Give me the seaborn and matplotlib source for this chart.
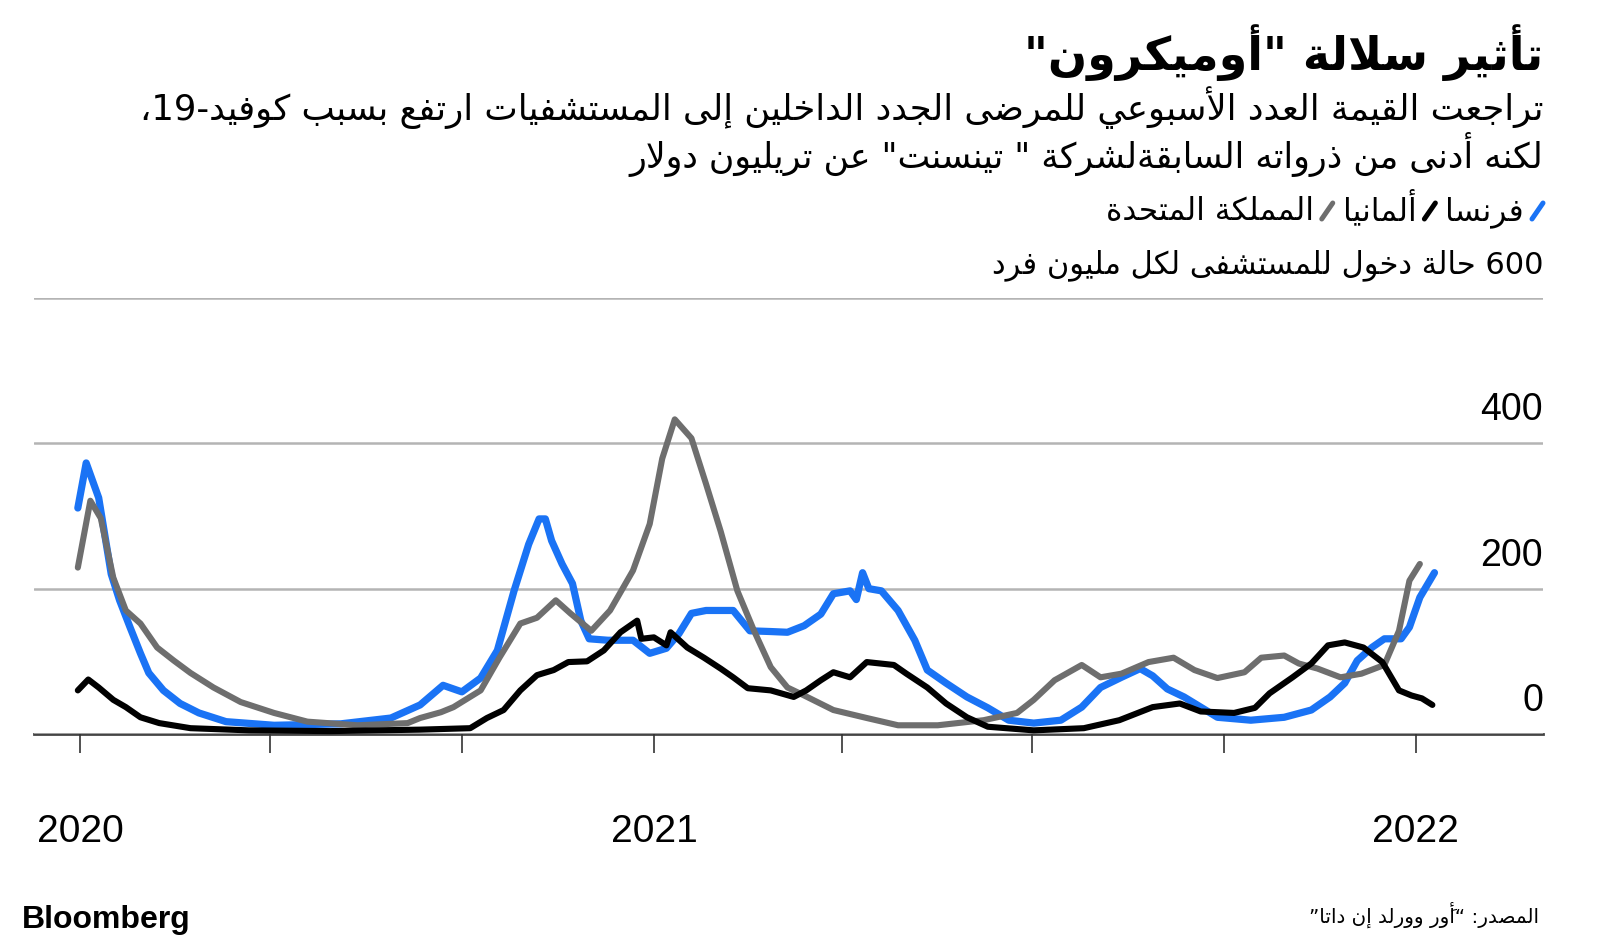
"""Omicron hospital admissions chart (Bloomberg style, Arabic text)."""

import matplotlib

matplotlib.use("Agg")

import matplotlib.pyplot as plt
import pandas as pd
import seaborn as sns
from matplotlib.lines import Line2D
from matplotlib.transforms import ScaledTranslation

# --- data (weekly new hospital admissions per million) ---
france_dates = [
    "2020-03-31", "2020-04-04", "2020-04-10", "2020-04-16", "2020-04-20", "2020-04-25",
    "2020-04-30", "2020-05-04", "2020-05-11", "2020-05-19", "2020-05-28", "2020-06-10",
    "2020-07-03", "2020-08-04", "2020-08-28", "2020-09-11", "2020-09-22", "2020-10-01",
    "2020-10-10", "2020-10-18", "2020-10-26", "2020-11-02", "2020-11-07", "2020-11-10",
    "2020-11-13", "2020-11-18", "2020-11-23", "2020-11-27", "2020-12-01", "2020-12-10",
    "2020-12-22", "2020-12-30", "2021-01-07", "2021-01-13", "2021-01-19", "2021-01-26",
    "2021-02-08", "2021-02-16", "2021-02-26", "2021-03-06", "2021-03-14", "2021-03-22",
    "2021-03-28", "2021-04-05", "2021-04-08", "2021-04-11", "2021-04-14", "2021-04-20",
    "2021-04-28", "2021-05-06", "2021-05-12", "2021-05-21", "2021-05-31", "2021-06-10",
    "2021-06-20", "2021-07-02", "2021-07-15", "2021-07-25", "2021-08-03", "2021-08-13",
    "2021-08-22", "2021-08-28", "2021-09-04", "2021-09-12", "2021-09-20", "2021-09-28",
    "2021-10-14", "2021-10-30", "2021-11-12", "2021-11-21", "2021-11-28", "2021-12-04",
    "2021-12-11", "2021-12-17", "2021-12-25", "2021-12-29", "2022-01-03", "2022-01-10",
]
france_values = [
    311, 373, 325, 220, 184, 147, 111, 84, 60, 42, 29, 17, 12, 14, 22, 40, 67, 58, 77, 115,
    197, 261, 296, 296, 266, 234, 207, 156, 131, 129, 129, 111, 118, 138, 166, 170, 170, 142,
    141, 140, 149, 165, 193, 197, 185, 222, 200, 197, 170, 129, 88, 70, 51, 36, 19, 15, 19,
    37, 64, 78, 90, 80, 62, 51, 37, 23, 19, 23, 33, 51, 70, 101, 119, 131, 131, 147, 188, 222,
]

germany_dates = [
    "2020-03-31", "2020-04-05", "2020-04-10", "2020-04-17", "2020-04-23", "2020-04-30",
    "2020-05-09", "2020-05-24", "2020-06-21", "2020-07-30", "2020-09-11", "2020-10-05",
    "2020-10-13", "2020-10-21", "2020-10-29", "2020-11-06", "2020-11-14", "2020-11-21",
    "2020-11-30", "2020-12-08", "2020-12-16", "2020-12-24", "2020-12-26", "2021-01-01",
    "2021-01-07", "2021-01-09", "2021-01-17", "2021-01-25", "2021-02-02", "2021-02-08",
    "2021-02-15", "2021-02-26", "2021-03-09", "2021-03-15", "2021-03-22", "2021-03-28",
    "2021-04-05", "2021-04-13", "2021-04-26", "2021-05-02", "2021-05-12", "2021-05-21",
    "2021-05-31", "2021-06-10", "2021-07-02", "2021-07-26", "2021-08-12", "2021-08-28",
    "2021-09-10", "2021-09-20", "2021-10-06", "2021-10-16", "2021-10-23", "2021-11-03",
    "2021-11-12", "2021-11-20", "2021-11-28", "2021-12-07", "2021-12-16", "2021-12-24",
    "2021-12-30", "2022-01-04", "2022-01-09",
]
germany_values = [
    60, 75, 64, 47, 37, 23, 15, 8, 5, 4, 6, 8, 22, 33, 60, 81, 88, 99, 100, 115,
    140, 156, 131, 133, 122, 140, 119, 105, 90, 78, 63, 60, 51, 60, 74, 85, 78, 99, 95, 83,
    64, 42, 23, 10, 5, 8, 19, 37, 42, 31, 29, 36, 56, 78, 97, 122, 126, 119, 99, 60,
    53, 49, 40,
]

uk_dates = [
    "2020-03-31", "2020-04-06", "2020-04-11", "2020-04-17", "2020-04-23", "2020-04-30",
    "2020-05-08", "2020-05-16", "2020-05-24", "2020-06-04", "2020-06-17", "2020-07-03",
    "2020-07-19", "2020-08-12", "2020-09-05", "2020-09-11", "2020-09-21", "2020-09-27",
    "2020-10-10", "2020-10-19", "2020-10-29", "2020-11-06", "2020-11-15", "2020-11-22",
    "2020-12-02", "2020-12-11", "2020-12-22", "2020-12-30", "2021-01-05", "2021-01-11",
    "2021-01-19", "2021-01-26", "2021-02-02", "2021-02-10", "2021-02-18", "2021-02-26",
    "2021-03-06", "2021-03-14", "2021-03-28", "2021-04-13", "2021-04-28", "2021-05-17",
    "2021-06-08", "2021-06-24", "2021-07-02", "2021-07-12", "2021-07-25", "2021-08-03",
    "2021-08-13", "2021-08-26", "2021-09-07", "2021-09-17", "2021-09-28", "2021-10-11",
    "2021-10-19", "2021-10-30", "2021-11-06", "2021-11-15", "2021-11-26", "2021-12-06",
    "2021-12-17", "2021-12-24", "2021-12-29", "2022-01-03",
]
uk_values = [
    229, 321, 297, 215, 170, 152, 119, 101, 84, 64, 44, 29, 17, 12, 15, 22, 30, 37, 60, 105,
    152, 160, 184, 166, 142, 170, 225, 289, 379, 433, 407, 344, 279, 197, 142, 92, 64, 53, 33, 22,
    12, 12, 19, 29, 47, 74, 95, 78, 83, 99, 105, 88, 77, 85, 105, 108, 97, 90, 78, 83,
    95, 142, 211, 234,
]

countries = ["فرنسا", "ألمانيا", "المملكة المتحدة"]
colors = ["#1a73f5", "#000000", "#6e6e6e"]

y_ticks = [0, 200, 400, 600]
y_tick_labels = ["0", "200", "400", ""]
x_ticks = ["2020-04-01", "2020-07-01", "2020-10-01", "2021-01-01",
           "2021-04-01", "2021-07-01", "2021-10-01", "2022-01-01"]
x_tick_labels = ["2020", "", "", "2021", "", "", "", "2022"]

title = 'تأثير سلالة "أوميكرون"'
subtitle = [
    "تراجعت القيمة العدد الأسبوعي للمرضى الجدد الداخلين إلى المستشفيات ارتفع بسبب كوفيد-19،",
    'لكنه أدنى من ذرواته السابقةلشركة " تينسنت" عن تريليون دولار',
]
unit_label = "600 حالة دخول للمستشفى لكل مليون فرد"
source = "المصدر: “أوَر وورلد إن داتا”"


# --- minimal Arabic shaping + right-to-left ordering (matplotlib has no shaper) ---
ARABIC_FORMS = {
    "\u0621": (0xFE80, "U"), "\u0622": (0xFE81, "R"), "\u0623": (0xFE83, "R"),
    "\u0624": (0xFE85, "R"), "\u0625": (0xFE87, "R"), "\u0626": (0xFE89, "D"),
    "\u0627": (0xFE8D, "R"), "\u0628": (0xFE8F, "D"), "\u0629": (0xFE93, "R"),
    "\u062A": (0xFE95, "D"), "\u062B": (0xFE99, "D"), "\u062C": (0xFE9D, "D"),
    "\u062D": (0xFEA1, "D"), "\u062E": (0xFEA5, "D"), "\u062F": (0xFEA9, "R"),
    "\u0630": (0xFEAB, "R"), "\u0631": (0xFEAD, "R"), "\u0632": (0xFEAF, "R"),
    "\u0633": (0xFEB1, "D"), "\u0634": (0xFEB5, "D"), "\u0635": (0xFEB9, "D"),
    "\u0636": (0xFEBD, "D"), "\u0637": (0xFEC1, "D"), "\u0638": (0xFEC5, "D"),
    "\u0639": (0xFEC9, "D"), "\u063A": (0xFECD, "D"), "\u0641": (0xFED1, "D"),
    "\u0642": (0xFED5, "D"), "\u0643": (0xFED9, "D"), "\u0644": (0xFEDD, "D"),
    "\u0645": (0xFEE1, "D"), "\u0646": (0xFEE5, "D"), "\u0647": (0xFEE9, "D"),
    "\u0648": (0xFEED, "R"), "\u0649": (0xFEEF, "R"), "\u064A": (0xFEF1, "D"),
}
LAM_ALEF = {"\u0622": 0xFEF5, "\u0623": 0xFEF7, "\u0625": 0xFEF9, "\u0627": 0xFEFB}
HARAKAT = set(chr(c) for c in range(0x064B, 0x0653))


def joining(cluster):
    if cluster[0].startswith("LA"):
        return "R"
    return ARABIC_FORMS.get(cluster[0], (None, None))[1]


def rtl(text):
    """Shape Arabic letters and return the string in visual (left-to-right) order."""
    clusters = []
    for ch in text:
        if ch in HARAKAT and clusters:
            clusters[-1][1] += ch
        else:
            clusters.append([ch, ""])

    merged = []
    i = 0
    while i < len(clusters):
        ch, marks = clusters[i]
        if ch == "\u0644" and i + 1 < len(clusters) and clusters[i + 1][0] in LAM_ALEF:
            merged.append(["LA" + clusters[i + 1][0], marks + clusters[i + 1][1]])
            i += 2
        else:
            merged.append([ch, marks])
            i += 1

    glyphs = []
    for i, cluster in enumerate(merged):
        jt = joining(cluster)
        if jt is None:
            glyphs.append(cluster[0] + cluster[1])
            continue
        prev_joins = i > 0 and joining(merged[i - 1]) == "D" and jt in ("D", "R")
        next_joins = (i + 1 < len(merged) and jt == "D"
                      and joining(merged[i + 1]) in ("D", "R"))
        if cluster[0].startswith("LA"):
            code = LAM_ALEF[cluster[0][2]] + (1 if prev_joins else 0)
        else:
            base = ARABIC_FORMS[cluster[0]][0]
            offset = {(False, False): 0, (True, False): 1,
                      (False, True): 2, (True, True): 3}[(prev_joins, next_joins)]
            code = base + offset
        glyphs.append(chr(code) + cluster[1])

    # keep runs of digits / latin in their own order
    tokens = []
    for g in glyphs:
        if g.isascii() and g.isalnum() and tokens and tokens[-1].isascii() and tokens[-1].isalnum():
            tokens[-1] += g
        else:
            tokens.append(g)
    return "".join(reversed(tokens))


# --- figure ---
sns.set_style("white")
plt.rcParams["font.family"] = ["DejaVu Sans"]
plt.rcParams["text.color"] = "black"
plt.rcParams["xtick.color"] = "black"
plt.rcParams["ytick.color"] = "black"

W, H = 1600, 946
fig = plt.figure(figsize=(W / 100, H / 100), dpi=100)
ax = fig.add_axes([34 / W, 1 - 734 / H, 1509 / W, 436 / H])

series = [
    ("فرنسا", france_dates, france_values, colors[0], 5.2, 1),
    ("المملكة المتحدة", uk_dates, uk_values, colors[2], 4.4, 2),
    ("ألمانيا", germany_dates, germany_values, colors[1], 4.4, 3),
]
for name, dates, values, color, lw, z in series:
    df = pd.DataFrame({"date": pd.to_datetime(dates), "value": values})
    sns.lineplot(data=df, x="date", y="value", ax=ax, color=color, linewidth=lw,
                 estimator=None, zorder=z, clip_on=False)

ax.set_xlim(pd.Timestamp("2020-03-10"), pd.Timestamp("2022-03-03"))
ax.set_ylim(0, 600)
ax.set_xlabel("")
ax.set_ylabel("")

for side in ["top", "left", "right"]:
    ax.spines[side].set_visible(False)
ax.spines["bottom"].set_color("#444444")
ax.spines["bottom"].set_linewidth(2.0)
ax.spines["bottom"].set_zorder(0.5)

ax.set_yticks(y_ticks)
ax.set_yticklabels(y_tick_labels)
ax.yaxis.grid(True, color="#b4b4b4", linewidth=1.8, zorder=0)
ax.set_axisbelow(True)
ax.yaxis.set_ticks_position("right")
ax.tick_params(axis="y", length=0, pad=0, labelsize=27, labelright=True, labelleft=False)
offset = ScaledTranslation(0, 23 / 100, fig.dpi_scale_trans)
for lab in ax.get_yticklabels():
    lab.set_horizontalalignment("right")
    lab.set_verticalalignment("baseline")
    lab.set_fontfamily("Liberation Sans")
    lab.set_transform(lab.get_transform() + offset)

ax.set_xticks(pd.to_datetime(x_ticks))
ax.set_xticklabels(x_tick_labels)
ax.tick_params(axis="x", length=13.5, width=1.2, color="#333333", pad=44,
               labelsize=28, labelcolor="black", direction="out", bottom=True)
for lab in ax.get_xticklabels():
    lab.set_fontfamily("Liberation Sans")

# --- texts ---
RIGHT = 1543


def put(x, y, s, **kw):
    return fig.text(x / W, 1 - y / H, s, **kw)


put(RIGHT, 70, rtl(title), ha="right", va="baseline", fontsize=33, fontweight="bold")
put(RIGHT, 120, rtl(subtitle[0]), ha="right", va="baseline", fontsize=25.5)
put(RIGHT, 168, rtl(subtitle[1]), ha="right", va="baseline", fontsize=25)
put(RIGHT, 273, rtl(unit_label), ha="right", va="baseline", fontsize=22)
put(1539, 923, rtl(source), ha="right", va="baseline", fontsize=14.3)
put(22, 928, "Bloomberg", ha="left", va="baseline", fontsize=23,
    fontweight="bold", fontfamily="Liberation Sans")

# legend: slash marker then name, laid out right to left
renderer = fig.canvas.get_renderer()
legend_y = 220
x = RIGHT
for name, color in zip(countries, colors):
    fig.add_artist(Line2D([(x - 11) / W, x / W], [1 - (legend_y - 1) / H, 1 - (legend_y - 17) / H],
                          color=color, linewidth=3.6, solid_capstyle="round"))
    x -= 11 + 8
    t = put(x, legend_y, rtl(name), ha="right", va="baseline", fontsize=22.5, color="black")
    x = t.get_window_extent(renderer).x0 - 10

fig.savefig("out.png", dpi=100, facecolor="white")
